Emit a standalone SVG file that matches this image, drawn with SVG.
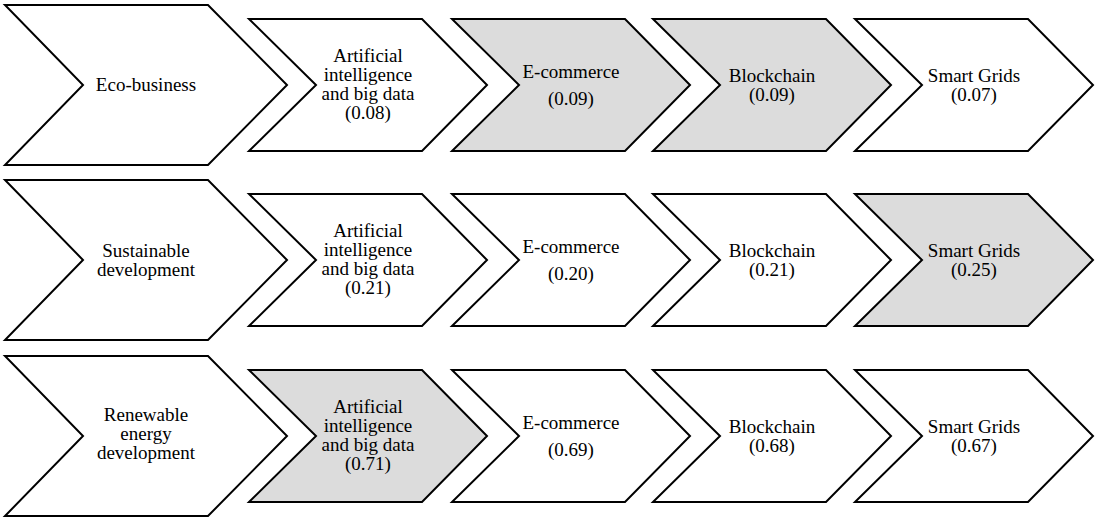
<svg xmlns="http://www.w3.org/2000/svg" width="1099" height="520" viewBox="0 0 1099 520">
<style>
.s{fill:#ffffff;stroke:#000;stroke-width:2;stroke-linejoin:miter}
.g{fill:#dcdcdc}
.t{font-family:'Liberation Serif',serif;font-size:19px;fill:#000;text-anchor:middle}
</style>
<defs>
<path id="big" d="M5,-80 L208,-80 L287,0 L208,80 L5,80 L83,0 Z"/>
<path id="sm" d="M0,-66 L173,-66 L238,0 L173,66 L0,66 L67,0 Z"/>
</defs>
<g id="connectors"/>
<g class="t" font-family="Liberation Serif, serif">
<!-- Row 1 -->
<g id="r1-eco" transform="translate(0,85)">
<use href="#big" class="s"/>
<text x="146" y="6">Eco-business</text>
</g>
<g id="r1-ai" transform="translate(249,85)">
<use href="#sm" class="s"/>
<text x="119" y="-23">Artificial</text>
<text x="119" y="-4">intelligence</text>
<text x="119" y="15">and big data</text>
<text x="119" y="34">(0.08)</text>
</g>
<g id="r1-ec" transform="translate(452,85)">
<use href="#sm" class="s g"/>
<text x="119" y="-7">E-commerce</text>
<text x="119" y="20">(0.09)</text>
</g>
<g id="r1-bc" transform="translate(653,85)">
<use href="#sm" class="s g"/>
<text x="119" y="-3">Blockchain</text>
<text x="119" y="16">(0.09)</text>
</g>
<g id="r1-sg" transform="translate(855,85)">
<use href="#sm" class="s"/>
<text x="119" y="-3">Smart Grids</text>
<text x="119" y="16">(0.07)</text>
</g>
<!-- Row 2 -->
<g id="r2-sd" transform="translate(0,260)">
<use href="#big" class="s"/>
<text x="146" y="-3">Sustainable</text>
<text x="146" y="16">development</text>
</g>
<g id="r2-ai" transform="translate(249,260)">
<use href="#sm" class="s"/>
<text x="119" y="-23">Artificial</text>
<text x="119" y="-4">intelligence</text>
<text x="119" y="15">and big data</text>
<text x="119" y="34">(0.21)</text>
</g>
<g id="r2-ec" transform="translate(452,260)">
<use href="#sm" class="s"/>
<text x="119" y="-7">E-commerce</text>
<text x="119" y="20">(0.20)</text>
</g>
<g id="r2-bc" transform="translate(653,260)">
<use href="#sm" class="s"/>
<text x="119" y="-3">Blockchain</text>
<text x="119" y="16">(0.21)</text>
</g>
<g id="r2-sg" transform="translate(855,260)">
<use href="#sm" class="s g"/>
<text x="119" y="-3">Smart Grids</text>
<text x="119" y="16">(0.25)</text>
</g>
<!-- Row 3 -->
<g id="r3-re" transform="translate(0,436)">
<use href="#big" class="s"/>
<text x="146" y="-15">Renewable</text>
<text x="146" y="4">energy</text>
<text x="146" y="23">development</text>
</g>
<g id="r3-ai" transform="translate(249,436)">
<use href="#sm" class="s g"/>
<text x="119" y="-23">Artificial</text>
<text x="119" y="-4">intelligence</text>
<text x="119" y="15">and big data</text>
<text x="119" y="34">(0.71)</text>
</g>
<g id="r3-ec" transform="translate(452,436)">
<use href="#sm" class="s"/>
<text x="119" y="-7">E-commerce</text>
<text x="119" y="20">(0.69)</text>
</g>
<g id="r3-bc" transform="translate(653,436)">
<use href="#sm" class="s"/>
<text x="119" y="-3">Blockchain</text>
<text x="119" y="16">(0.68)</text>
</g>
<g id="r3-sg" transform="translate(855,436)">
<use href="#sm" class="s"/>
<text x="119" y="-3">Smart Grids</text>
<text x="119" y="16">(0.67)</text>
</g>
</g>
</svg>
